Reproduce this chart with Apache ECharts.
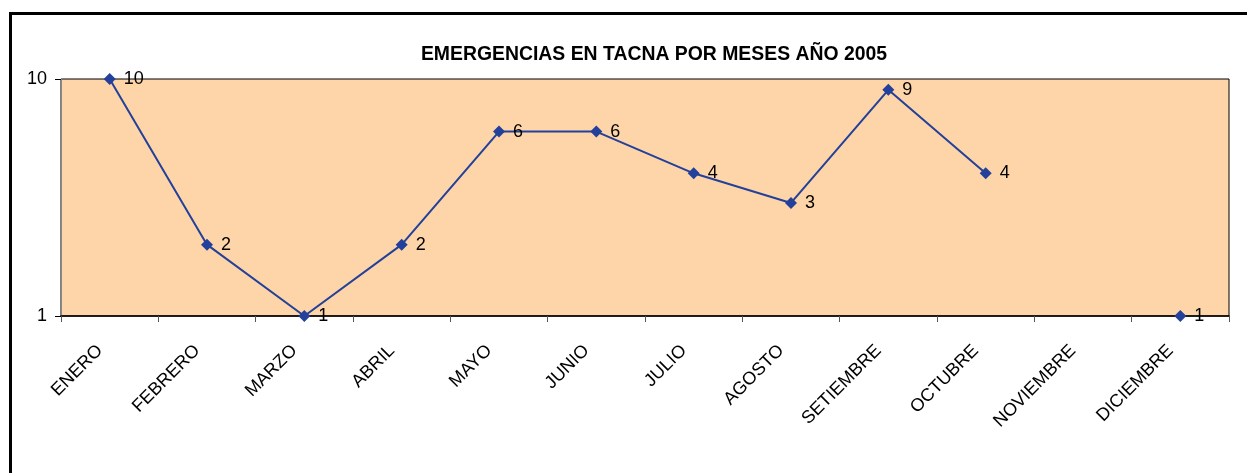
<!DOCTYPE html>
<html>
<head>
<meta charset="utf-8">
<title>Emergencias en Tacna 2005</title>
<script src="https://cdn.jsdelivr.net/npm/echarts@6/dist/echarts.min.js"></script>
<style>
  html, body { margin: 0; padding: 0; background: #ffffff; }
  #frame {
    position: absolute; left: 9px; top: 12px; width: 1260px; height: 480px;
    border-left: 3px solid #000; border-top: 3px solid #000; box-sizing: border-box;
  }
  #chart { position: absolute; left: 0; top: 0; width: 1247px; height: 473px; }
</style>
</head>
<body>
<div id="frame"></div>
<div id="chart"></div>
<script>
// meses y cantidad de emergencias (NOVIEMBRE sin dato)
const months = ["ENERO", "FEBRERO", "MARZO", "ABRIL", "MAYO", "JUNIO", "JULIO",
  "AGOSTO", "SETIEMBRE", "OCTUBRE", "NOVIEMBRE", "DICIEMBRE"];
const emergencias = [10, 2, 1, 2, 6, 6, 4, 3, 9, 4, null, 1];
const yTicks = [1, 10];

const chart = echarts.init(document.getElementById("chart"));
const font = "Liberation Sans, Arial, sans-serif";

chart.setOption({
  animation: false,
  title: {
    text: "EMERGENCIAS EN TACNA POR MESES AÑO 2005",
    left: 649,
    top: 40,
    textAlign: "center",
    textStyle: { fontFamily: font, fontSize: 19.4, fontWeight: "bold", color: "#000" }
  },
  grid: { left: 61, right: 18, top: 79, bottom: 157, show: true,
    backgroundColor: "#fdd5a8", borderColor: "#000", borderWidth: 1 },
  xAxis: {
    type: "category",
    data: months,
    boundaryGap: true,
    axisLine: { lineStyle: { color: "#000", width: 1.5 } },
    axisTick: { show: true, length: 6, inside: false, lineStyle: { color: "#555" } },
    axisLabel: { rotate: 45, margin: 22, padding: [0, 14, 0, 0],
      color: "#000", fontFamily: font, fontSize: 18 }
  },
  yAxis: {
    type: "log",
    logBase: 10,
    min: yTicks[0],
    max: yTicks[yTicks.length - 1],
    splitLine: { show: false },
    axisLine: { show: true, lineStyle: { color: "#888" } },
    axisTick: { show: true, length: 6, lineStyle: { color: "#000" } },
    axisLabel: { color: "#000", fontFamily: font, fontSize: 18, margin: 14 }
  },
  series: [{
    type: "line",
    data: emergencias,
    connectNulls: false,
    symbol: "diamond",
    symbolSize: 12,
    showAllSymbol: true,
    lineStyle: { color: "#23409a", width: 2 },
    itemStyle: { color: "#23409a" },
    label: {
      show: true, position: "right", distance: 8,
      color: "#000", fontFamily: font, fontSize: 18
    }
  }]
});
</script>
</body>
</html>
